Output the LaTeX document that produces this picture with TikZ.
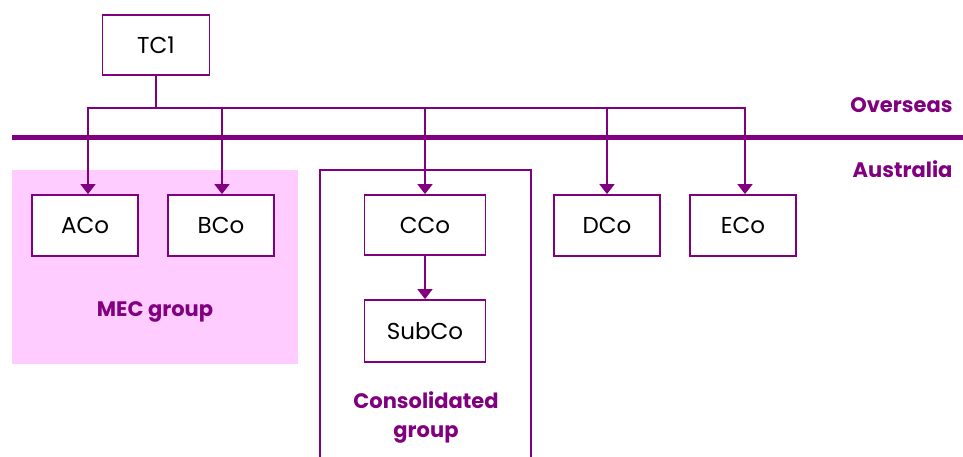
\documentclass[tikz,border=0pt]{standalone}
\usepackage{fontspec}
\setmainfont{Poppins}
\usetikzlibrary{arrows.meta}
\definecolor{pur}{HTML}{800080}
\definecolor{pinkbg}{HTML}{FFCCFF}
\tikzset{
  cobox/.style={draw=pur, line width=1.8pt, fill=white, minimum height=60pt, inner sep=0pt, font=\fontsize{23}{26}\selectfont, text=black},
  arr/.style={draw=pur, line width=1.8pt, -{Triangle[width=15pt,length=10pt]}},
  lbl/.style={text=pur, font=\fontsize{21}{29}\selectfont\bfseries, align=center}
}
\begin{document}
\begin{tikzpicture}[x=1pt,y=-1pt]
\useasboundingbox (0,0) rectangle (963,456);
% MEC group background
\fill[pinkbg] (12,170) rectangle (298,364);
% Consolidated group frame
\draw[pur, line width=1.8pt] (320,458) -- (320,170) -- (531,170) -- (531,458);
% Overseas / Australia divide
\draw[pur, line width=5pt] (12,137) -- (963,137);
\node[lbl, anchor=east] (ov) at (956,105) {Overseas};
\node[lbl, anchor=east] (au) at (956,169) {Australia};
% boxes
\node[cobox, minimum width=107pt] (tc1) at (156,45) {TC1};
\node[cobox, minimum width=106pt, minimum height=61pt] (aco) at (85,225.5) {ACo};
\node[cobox, minimum width=106pt, minimum height=61pt] (bco) at (221,225.5) {BCo};
\node[cobox, minimum width=121pt] (cco) at (425,225) {CCo};
\node[cobox, minimum width=121pt, minimum height=62pt] (subco) at (425,331) {SubCo};
\node[cobox, minimum width=106pt, minimum height=61pt] (dco) at (607,225.5) {DCo};
\node[cobox, minimum width=106pt, minimum height=61pt] (eco) at (743,225.5) {ECo};
% labels
\node[lbl] (mec) at (155,312) {MEC group};
\node[lbl] (cons) at (426,417) {Consolidated\\group};
% connectors
\coordinate (j) at ([yshift=-32pt]tc1.south);
\draw[pur, line width=1.8pt] (tc1.south) -- (j);
\draw[arr] (j) -| ([xshift=3pt]aco.north);
\draw[arr] (j) -| ([xshift=1pt]bco.north);
\draw[arr] (j) -| (cco.north);
\draw[arr] (j) -| (dco.north);
\draw[arr] (j) -| ([xshift=2pt]eco.north);
\draw[arr] (cco.south) -- (subco.north);
\end{tikzpicture}
\end{document}
